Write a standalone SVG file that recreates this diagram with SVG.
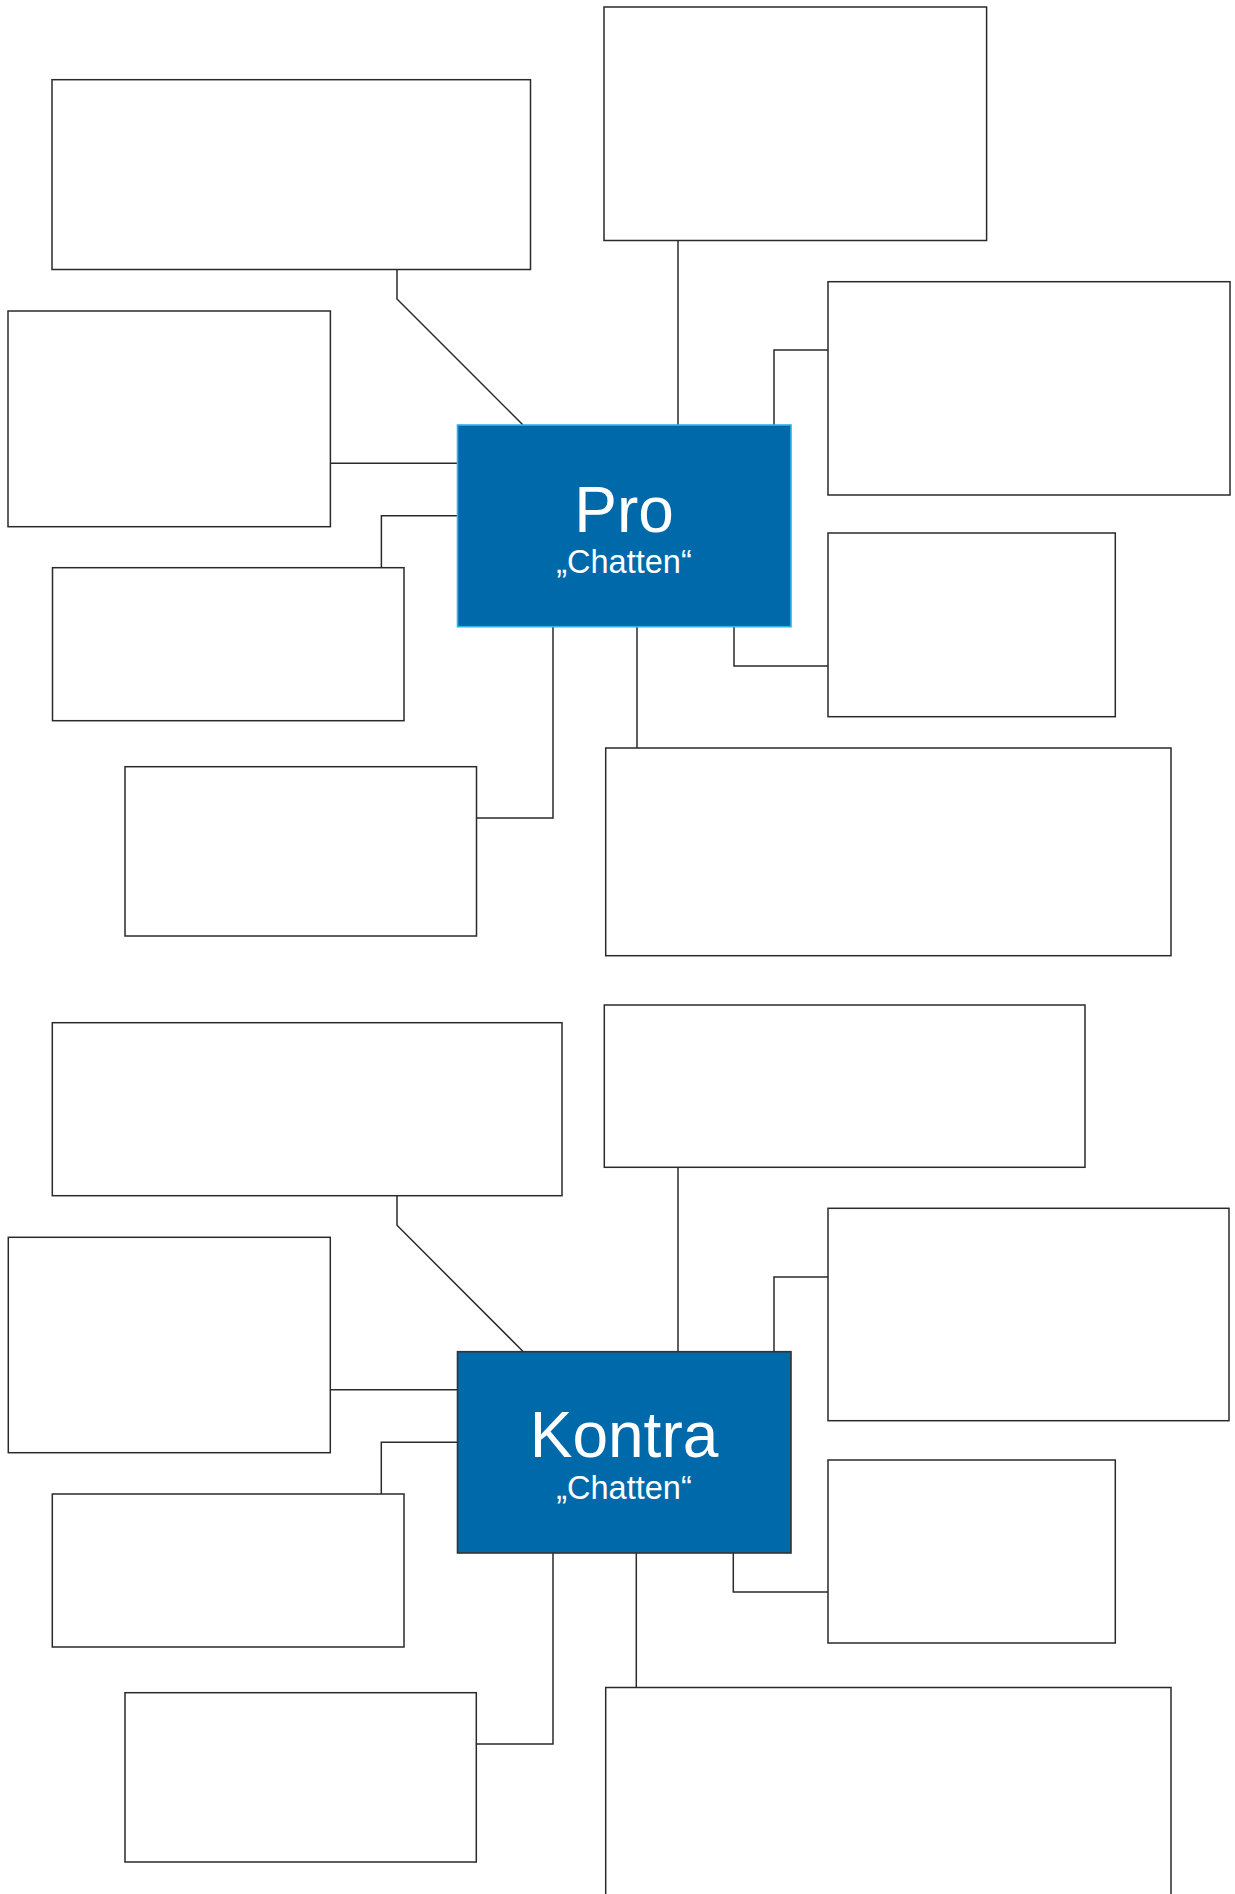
<svg xmlns="http://www.w3.org/2000/svg" width="1235" height="1894" viewBox="0 0 1235 1894">
<style>
.box{fill:#fff;stroke:#2a2a2a;stroke-width:1.5}
.hub{fill:#0069aa;stroke-width:1.6}
.pro{stroke:#2cb4ea}
.kon{stroke:#333}
.t1{font-family:"Liberation Sans",Arial,sans-serif;font-size:64px;fill:#fff;text-anchor:middle}
.t2{font-family:"Liberation Sans",Arial,sans-serif;font-size:32.5px;fill:#fff;text-anchor:middle}
.c{fill:none;stroke:#2a2a2a;stroke-width:1.5}
</style>
<rect width="1235" height="1894" fill="#fff"/>
<g id="connectors">
<polyline class="c" points="397,269.5 397,299 523,425"/>
<polyline class="c" points="678,240.5 678,425"/>
<polyline class="c" points="774,425 774,350 828,350"/>
<polyline class="c" points="330.4,463.3 457.5,463.3"/>
<polyline class="c" points="457.5,515.7 381.4,515.7 381.4,567.7"/>
<polyline class="c" points="553,626.7 553,818 476.5,818"/>
<polyline class="c" points="637,626.7 637,748"/>
<polyline class="c" points="734,626.7 734,666 828,666"/>
<polyline class="c" points="397,1195.7 397,1225.3 523.3,1351.7"/>
<polyline class="c" points="678,1167.3 678,1351.7"/>
<polyline class="c" points="774,1351.7 774,1277 828,1277"/>
<polyline class="c" points="330.3,1389.7 457.5,1389.7"/>
<polyline class="c" points="457.5,1442.3 381.3,1442.3 381.3,1494"/>
<polyline class="c" points="553,1553 553,1744 476.3,1744"/>
<polyline class="c" points="636.3,1553 636.3,1687.5"/>
<polyline class="c" points="733.3,1553 733.3,1592 828,1592"/>
</g>
<g id="pro-a"><rect class="box" x="52" y="79.7" width="478.5" height="189.8"/></g>
<g id="pro-b"><rect class="box" x="604" y="7" width="382.6" height="233.5"/></g>
<g id="pro-c"><rect class="box" x="828" y="281.7" width="402" height="213.3"/></g>
<g id="pro-d"><rect class="box" x="8" y="311" width="322.4" height="215.7"/></g>
<g id="pro-e"><rect class="box" x="52.5" y="567.7" width="351.5" height="153"/></g>
<g id="pro-f"><rect class="box" x="125" y="766.7" width="351.5" height="169.3"/></g>
<g id="pro-g"><rect class="box" x="605.7" y="748" width="565.3" height="207.7"/></g>
<g id="pro-h"><rect class="box" x="828" y="533" width="287.3" height="183.7"/></g>
<g id="pro">
<rect class="hub pro" x="457.5" y="425" width="333.5" height="201.7"/>
<text class="t1" x="624" y="531.7">Pro</text>
<text class="t2" x="624" y="572.7">„Chatten“</text>
</g>
<g id="kontra-a"><rect class="box" x="52.3" y="1022.7" width="509.7" height="173"/></g>
<g id="kontra-b"><rect class="box" x="604.3" y="1005" width="480.7" height="162.3"/></g>
<g id="kontra-c"><rect class="box" x="828" y="1208.3" width="401" height="212.4"/></g>
<g id="kontra-d"><rect class="box" x="8.3" y="1237.3" width="322" height="215.4"/></g>
<g id="kontra-e"><rect class="box" x="52.3" y="1494" width="351.7" height="153"/></g>
<g id="kontra-f"><rect class="box" x="125" y="1692.7" width="351.3" height="169.3"/></g>
<g id="kontra-g"><rect class="box" x="605.7" y="1687.5" width="565.3" height="260"/></g>
<g id="kontra-h"><rect class="box" x="828" y="1460" width="287.3" height="183"/></g>
<g id="kontra">
<rect class="hub kon" x="457.5" y="1351.7" width="333.5" height="201.3"/>
<text class="t1" x="624" y="1456.7">Kontra</text>
<text class="t2" x="624" y="1499.3">„Chatten“</text>
</g>
</svg>
